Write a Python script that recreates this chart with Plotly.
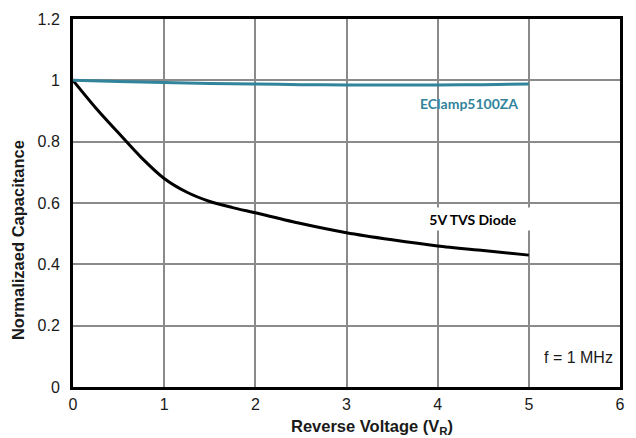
import plotly.graph_objects as go

# Data
voltage_tvs = [0, 0.25, 0.5, 0.75, 1.0, 1.25, 1.5, 1.75, 2.0, 2.5, 3.0, 3.5, 4.0, 4.5, 5.0]
cap_tvs = [1.0, 0.91, 0.828, 0.748, 0.68, 0.635, 0.605, 0.585, 0.568, 0.533, 0.503, 0.48, 0.46, 0.445, 0.43]

voltage_eclamp = [0, 0.5, 1.0, 1.5, 2.0, 2.5, 3.0, 3.5, 4.0, 4.5, 5.0]
cap_eclamp = [1.0, 0.996, 0.993, 0.99, 0.988, 0.986, 0.985, 0.985, 0.985, 0.986, 0.988]

x_ticks = [0, 1, 2, 3, 4, 5, 6]
y_ticks = [0, 0.2, 0.4, 0.6, 0.8, 1, 1.2]
y_tick_text = ["0", "0.2", "0.4", "0.6", "0.8", "1", "1.2"]

TEAL = "#31849B"
ARIAL = "Liberation Sans, Arial, sans-serif"
CALIBRI = "Lato, Carlito, sans-serif"

fig = go.Figure()
fig.add_trace(go.Scatter(
    x=voltage_tvs, y=cap_tvs, mode="lines", name="5V TVS Diode",
    line=dict(color="black", width=3, shape="spline", smoothing=0.8),
))
fig.add_trace(go.Scatter(
    x=voltage_eclamp, y=cap_eclamp, mode="lines", name="EClamp5100ZA",
    line=dict(color=TEAL, width=3, shape="spline", smoothing=0.8),
))

axis_common = dict(
    showline=True, linecolor="black", linewidth=3, mirror=True,
    showgrid=True, gridcolor="#8a8a8a", gridwidth=1.5,
    zeroline=False, ticks="", tickfont=dict(family=ARIAL, size=16, color="#1a1a1a"),
)

fig.update_layout(
    width=636, height=438,
    margin=dict(l=73, r=11, t=15, b=51),
    paper_bgcolor="white", plot_bgcolor="white",
    showlegend=False,
    xaxis=dict(
        range=[0, 6], tickvals=x_ticks, ticktext=[str(v) for v in x_ticks],
        ticklabelstandoff=1,
        **axis_common,
    ),
    yaxis=dict(
        range=[0, 1.2], tickvals=y_ticks, ticktext=y_tick_text,
        ticklabelstandoff=7,
        **axis_common,
    ),
    annotations=[
        # axis titles (positioned as in the reference)
        dict(x=0.547, y=-0.109, xref="paper", yref="paper", xanchor="center", yanchor="middle",
             text="<b>Reverse Voltage (V<sub>R</sub>)</b>", showarrow=False,
             font=dict(family=ARIAL, size=16.5, color="#1a1a1a")),
        dict(x=-0.1014, y=0.398, xref="paper", yref="paper", xanchor="center", yanchor="middle",
             text="<b>Normalizaed Capacitance</b>", textangle=-90, showarrow=False,
             font=dict(family=ARIAL, size=16.5, color="#1a1a1a")),
        # series labels
        dict(x=4.34, y=0.923, xref="x", yref="y", text="<b>EClamp5100ZA</b>",
             showarrow=False, font=dict(family=CALIBRI, size=14, color=TEAL)),
        dict(x=4.39, y=0.549, xref="x", yref="y", text="<b>5V TVS Diode</b>",
             showarrow=False, bgcolor="white", width=112, height=20,
             font=dict(family=CALIBRI, size=14, color="black")),
        dict(x=5.54, y=0.097, xref="x", yref="y", text="f = 1 MHz",
             showarrow=False, font=dict(family=ARIAL, size=16, color="#1a1a1a")),
    ],
)

fig.write_html("out.html", config={"displayModeBar": False},
               post_script="document.body.style.margin='0px';")
